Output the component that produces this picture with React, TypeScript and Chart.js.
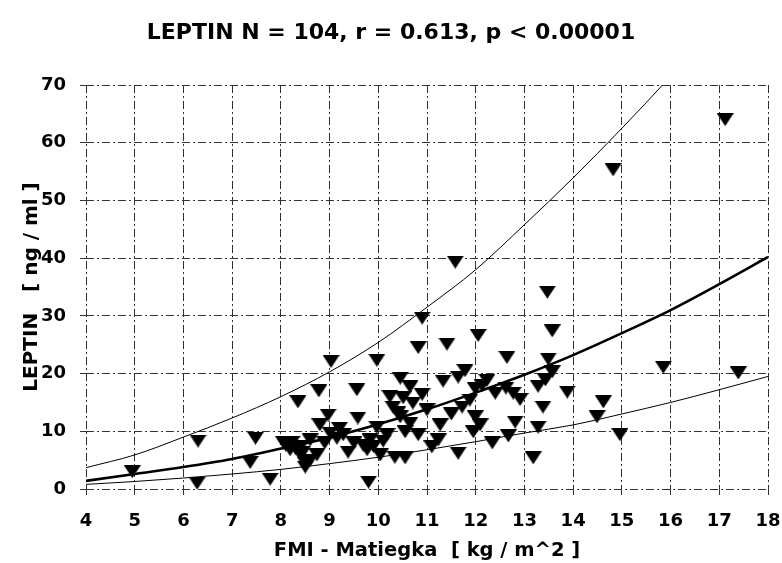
import React, { useEffect, useRef } from "react";
import { Chart, registerables } from "chart.js";

Chart.register(...registerables);

const chartTitle = "LEPTIN N = 104, r = 0.613, p < 0.00001";
const xTitle = "FMI - Matiegka  [ kg / m^2 ]";
const yTitle = "LEPTIN   [ ng / ml ]";

const fmi = [
  4.95, 6.3, 6.28, 7.37, 7.48, 7.78, 8.35, 8.05, 8.23, 8.19, 8.4, 8.5, 8.6, 8.74, 8.6, 8.4, 8.5,
  8.78, 8.8, 8.97, 9.03, 9.01, 9.28, 9.38, 9.56, 9.58, 9.69, 9.77, 9.83, 9.8, 9.97, 9.97, 10.04,
  10.18, 10.24, 10.3, 10.34, 10.45, 10.45, 10.51, 10.55, 10.55, 10.65, 10.65, 10.71, 10.82, 10.82,
  10.9, 11.0, 11.1, 11.23, 11.27, 11.33, 11.41, 11.58, 11.64, 11.64, 11.72, 11.78, 11.88, 11.95,
  11.99, 11.99, 12.05, 12.09, 12.13, 12.23, 12.34, 12.62, 12.64, 12.77, 12.67, 12.81, 12.91, 13.18,
  13.28, 13.28, 13.38, 13.43, 13.49, 13.47, 13.57, 13.57, 13.88, 14.49, 14.62, 14.82, 14.96, 15.85,
  17.12, 17.39, 8.3, 8.45, 8.9, 9.15, 9.5, 9.9, 10.1, 10.4, 10.9, 11.5, 12.4, 8.1, 9.2,
];
const leptin = [
  3.0, 8.3, 1.0, 4.6, 8.8, 1.7, 15.1, 8.1, 8.1, 6.8, 5.9, 3.8, 5.0, 5.9, 8.5, 7.3, 4.5,
  17.0, 11.1, 12.8, 22.1, 9.7, 9.4, 6.4, 17.2, 12.3, 7.6, 6.8, 8.5, 1.2, 22.3, 10.7, 5.9,
  9.4, 16.0, 14.2, 5.5, 19.2, 12.5, 15.8, 9.9, 5.4, 17.7, 11.4, 14.9, 24.5, 9.4,
  29.6, 13.7, 7.3, 8.5, 11.1, 18.7, 25.1, 39.3, 19.4, 6.2, 14.2, 20.5, 15.4, 9.9,
  12.5, 17.4, 26.6, 11.1, 17.9, 18.8, 8.0, 17.5, 22.8, 16.6, 9.2, 11.6, 15.5, 5.4,
  10.7, 17.8, 14.2, 18.9, 22.5, 34.1, 27.4, 20.3, 16.8, 12.5, 15.1, 55.3, 9.4, 21.1,
  64.0, 20.1, 7.0, 6.4, 8.0, 8.8, 8.0, 7.4, 8.3, 13.2, 16.4, 13.0, 16.6, 7.6, 10.5,
];

const curveX = [4, 5, 6, 7, 8, 9, 10, 11, 12, 13, 14, 15, 16, 17, 18];
const upperCurve = [3.7, 5.9, 9.0, 12.3, 16.0, 20.3, 25.4, 31.5, 38.0, 45.8, 53.9, 62.5, 71.5, 81, 91];
const middleCurve = [1.4, 2.6, 3.8, 5.2, 7.0, 8.9, 11.2, 13.8, 16.7, 19.8, 23.2, 27.0, 31.0, 35.5, 40.2];
const lowerCurve = [0.8, 1.3, 1.9, 2.6, 3.4, 4.4, 5.5, 6.8, 8.2, 9.7, 11.1, 13.0, 15.0, 17.2, 19.5];

const FONT = "'DejaVu Sans', sans-serif";

export default function App() {
  const ref = useRef<HTMLCanvasElement>(null);

  useEffect(() => {
    document.body.style.margin = "0";
    const tri = document.createElement("canvas");
    tri.width = 17;
    tri.height = 13;
    const c = tri.getContext("2d")!;
    c.fillStyle = "#000";
    c.beginPath();
    c.moveTo(0, 0);
    c.lineTo(17, 0);
    c.lineTo(8.5, 13);
    c.closePath();
    c.fill();

    const pts = fmi.map((x, i) => ({ x, y: leptin[i] }));
    const mk = (arr: number[]) => curveX.map((x, i) => ({ x, y: arr[i] }));
    const lineDs = (arr: number[], w: number) => ({
      type: "line" as const,
      data: mk(arr),
      borderColor: "#000",
      borderWidth: w,
      pointRadius: 0,
      fill: false,
      cubicInterpolationMode: "monotone" as const,
    });

    const gridCommon = {
      color: "#333",
      lineWidth: 1,
      tickLength: 6,
      tickColor: "#333",
    };

    const chart = new Chart(ref.current!, {
      type: "scatter",
      data: {
        datasets: [
          {
            type: "scatter",
            data: pts,
            pointStyle: tri,
            pointRadius: 8,
            backgroundColor: "#000",
            borderColor: "#000",
          } as any,
          lineDs(upperCurve, 1),
          lineDs(middleCurve, 2.6),
          lineDs(lowerCurve, 1),
        ],
      },
      options: {
        animation: false,
        responsive: false,
        maintainAspectRatio: false,
        layout: { padding: { right: 14, left: 14, top: 0, bottom: 0 } },
        plugins: {
          legend: { display: false },
          tooltip: { enabled: false },
          title: {
            display: true,
            text: chartTitle,
            color: "#000",
            font: { family: FONT, size: 22, weight: "bold" },
            padding: { top: 20, bottom: 38.6 },
          },
        },
        scales: {
          x: {
            type: "linear",
            min: 4,
            max: 18,
            ticks: {
              stepSize: 1,
              color: "#000",
              font: { family: FONT, size: 18, weight: "bold" },
              padding: 16,
            },
            grid: gridCommon,
            border: { display: false, dash: [8, 3, 2, 3] },
            title: {
              display: true,
              text: xTitle,
              color: "#000",
              font: { family: FONT, size: 19.5, weight: "bold" },
              padding: { top: 0, bottom: 0 },
            },
            afterFit: (s: any) => {
              s.height = 74;
              s.paddingLeft = 0;
              s.paddingRight = 0;
            },
          },
          y: {
            type: "linear",
            min: 0,
            max: 70,
            ticks: {
              stepSize: 10,
              color: "#000",
              font: { family: FONT, size: 18, weight: "bold" },
              padding: 14,
            },
            grid: gridCommon,
            border: { display: false, dash: [8, 3, 2, 3] },
            title: {
              display: true,
              text: yTitle,
              color: "#000",
              font: { family: FONT, size: 20, weight: "bold" },
              padding: { top: 6, bottom: 0 },
            },
            afterFit: (s: any) => {
              s.width = 72;
            },
          },
        },
      } as any,
    });
    return () => chart.destroy();
  }, []);

  return (
    <div style={{ width: 782, height: 563 }}>
      <canvas ref={ref} width={782} height={563} style={{ display: "block" }} />
    </div>
  );
}
